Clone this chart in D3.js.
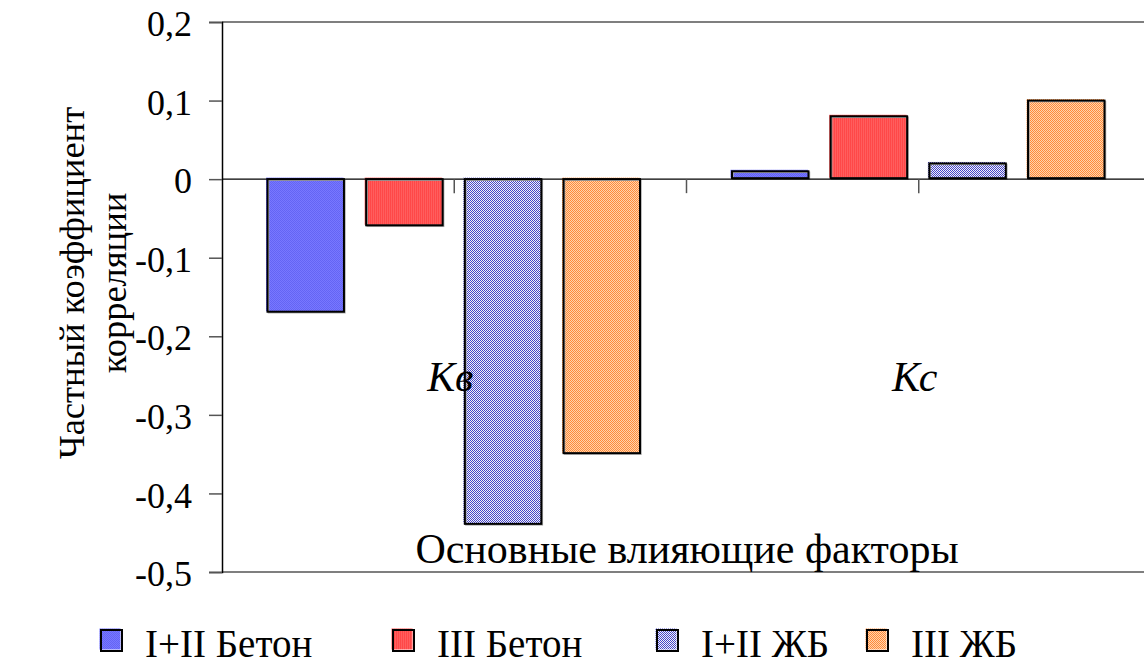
<!DOCTYPE html>
<html>
<head>
<meta charset="utf-8">
<script src="https://cdn.jsdelivr.net/npm/d3@7"></script>
<style>
  html, body { margin: 0; padding: 0; background: #fff; }
  svg { display: block; }
  svg text { font-family: "Liberation Serif", "Times New Roman", serif; fill: #000; }
</style>
</head>
<body>
<svg id="chart" width="1144" height="666"></svg>
<script>
// Factors (categories) and series
const factors = ["Кв", "Кс"];
const seriesNames = ["I+II Бетон", "III Бетон", "I+II ЖБ", "III ЖБ"];
// Partial correlation coefficients, one array per series: [Кв, Кс]
const seriesBeton12 = [-0.17, 0.01];
const seriesBeton3  = [-0.06, 0.08];
const seriesZhb12   = [-0.44, 0.02];
const seriesZhb3    = [-0.35, 0.10];
const yTickValues = [0.2, 0.1, 0, -0.1, -0.2, -0.3, -0.4, -0.5];
const yTickLabels = ["0,2", "0,1", "0", "-0,1", "-0,2", "-0,3", "-0,4", "-0,5"];
const yTitleLines = ["Частный коэффициент", "корреляции"];
const xTitle = "Основные влияющие факторы";

const seriesValues = [seriesBeton12, seriesBeton3, seriesZhb12, seriesZhb3];

const svg = d3.select("#chart");
const W = 1144, H = 666;
const plot = { left: 222, right: 1151, top: 22, bottom: 572 };

// Fill patterns
const defs = svg.append("defs");
function pattern(id, size, bg, cells) {
  const p = defs.append("pattern").attr("id", id)
    .attr("patternUnits", "userSpaceOnUse").attr("width", size).attr("height", size);
  p.append("rect").attr("width", size).attr("height", size).attr("fill", bg);
  cells.forEach(c => p.append("rect").attr("x", c[0]).attr("y", c[1])
    .attr("width", c[2]).attr("height", c[3]).attr("fill", c[4]));
}
pattern("pBlue", 2, "#7878ff", [[0, 0, 1, 1, "#6464f4"], [1, 1, 1, 1, "#6464f4"]]);
pattern("pRed", 2, "#ff5e5e", [[0, 0, 1, 2, "#ff4848"]]);
pattern("pChecker", 2, "#f4f4f4", [[0, 0, 1, 1, "#4444cc"], [1, 1, 1, 1, "#4444cc"]]);
pattern("pOrange", 2, "#ffd4ac", [[0, 0, 1, 1, "#ff8a3a"], [1, 1, 1, 1, "#ff8a3a"]]);
const fills = ["url(#pBlue)", "url(#pRed)", "url(#pChecker)", "url(#pOrange)"];

// Scales
const x0 = d3.scaleBand().domain(factors).range([plot.left, plot.right]).paddingInner(0).paddingOuter(0);
const x1 = d3.scaleBand().domain(seriesNames).range([0, x0.bandwidth()])
  .paddingInner(0.215).paddingOuter(0.461);
const y = d3.scaleLinear().domain([-0.5, 0.2]).range([plot.bottom, plot.top]);

// Plot frame (top and bottom edges)
[0.2, -0.5].forEach(v => {
  svg.append("line").attr("x1", plot.left).attr("x2", W).attr("y1", y(v)).attr("y2", y(v))
    .attr("stroke", "#555").attr("stroke-width", 1.5);
});

// Bars
const bars = [];
factors.forEach((f, i) => {
  seriesNames.forEach((s, j) => {
    bars.push({ factor: f, series: s, value: seriesValues[j][i], j });
  });
});
const g = svg.append("g");
bars.forEach(d => {
  const bx = x0(d.factor) + x1(d.series);
  const bw = x1.bandwidth();
  const by = y(Math.max(0, d.value));
  const bh = Math.abs(y(d.value) - y(0));
  g.append("rect").attr("x", bx - 1.5).attr("y", by - 1.5).attr("width", bw).attr("height", bh)
    .attr("fill", fills[d.j]);
  g.append("rect").attr("x", bx + 1).attr("y", by + 1).attr("width", bw - 1).attr("height", Math.max(bh - 1, 0.5))
    .attr("fill", "none").attr("stroke", "#aaa").attr("stroke-width", 1.5);
  g.append("rect").attr("x", bx).attr("y", by).attr("width", bw - 1).attr("height", Math.max(bh - 1, 0.5))
    .attr("fill", "none").attr("stroke", "#000").attr("stroke-width", 2);
});

// Zero line with category tick marks
svg.append("line").attr("x1", plot.left).attr("x2", W).attr("y1", y(0)).attr("y2", y(0))
  .attr("stroke", "#000").attr("stroke-width", 1.2);
const xTicks = [];
factors.forEach((f, i) => {
  if (i > 0) xTicks.push(x0(f));
  xTicks.push(x0(f) + x0.bandwidth() / 2);
});
svg.selectAll(".xt").data(xTicks).join("line").attr("class", "xt")
  .attr("x1", d => d).attr("x2", d => d).attr("y1", y(0)).attr("y2", y(0) + 14)
  .attr("stroke", "#555").attr("stroke-width", 1.5);

// Y axis
const yAxis = d3.axisLeft(y).tickValues(yTickValues).tickSize(13).tickPadding(17)
  .tickFormat((d, i) => yTickLabels[i]);
const ya = svg.append("g").attr("transform", `translate(${plot.left},0)`).call(yAxis)
  .attr("font-family", null).attr("font-size", null);
ya.select(".domain").attr("stroke", "#000").attr("stroke-width", 1.5);
ya.selectAll(".tick line").attr("stroke", "#555").attr("stroke-width", 1.5);
ya.selectAll(".tick text").style("font-size", "36px").attr("fill", "#000").attr("dy", "0.38em");

// Y title (two lines, rotated)
const yt = svg.append("text").attr("transform", "translate(84,283) rotate(-90)")
  .attr("text-anchor", "middle").style("font-size", "36.5px");
yTitleLines.forEach((t, i) => {
  yt.append("tspan").attr("x", 0).attr("dy", i === 0 ? 0 : "1.15em").text(t);
});

// Factor labels
svg.selectAll(".fl").data(factors).join("text").attr("class", "fl")
  .attr("x", d => x0(d) + x0.bandwidth() / 2 - 4)
  .attr("y", y(-0.27))
  .attr("text-anchor", "middle").style("font-style", "italic").style("font-size", "42px")
  .text(d => d);

// X title inside plot
svg.append("text").attr("x", 687).attr("y", 563).attr("text-anchor", "middle")
  .style("font-size", "42px").text(xTitle);

// Legend
const legendX = [101, 393, 657, 867];
const lg = svg.append("g");
seriesNames.forEach((s, j) => {
  const lx = legendX[j];
  lg.append("rect").attr("x", lx - 1.5).attr("y", 628.5).attr("width", 21).attr("height", 21)
    .attr("fill", fills[j]);
  lg.append("rect").attr("x", lx).attr("y", 630).attr("width", 21).attr("height", 21)
    .attr("fill", "none").attr("stroke", "#000").attr("stroke-width", 2);
  lg.append("text").attr("x", lx + 44).attr("y", 657).style("font-size", "39px").text(s);
});
</script>
</body>
</html>
